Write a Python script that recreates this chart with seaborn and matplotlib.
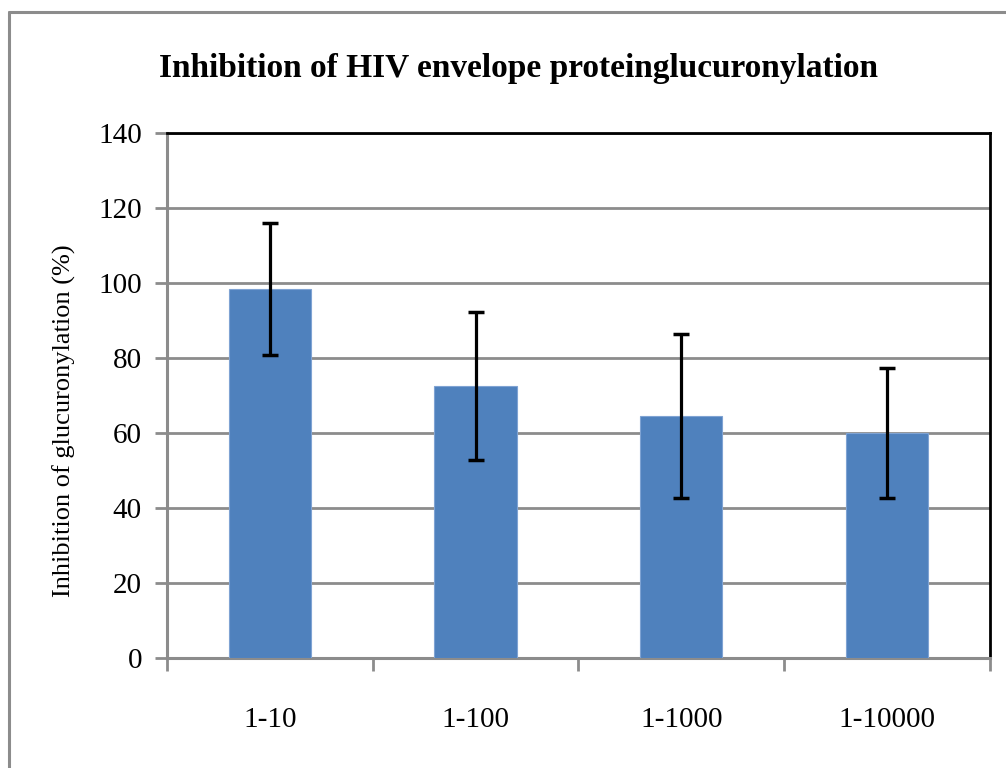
import matplotlib
matplotlib.use("Agg")
import matplotlib.pyplot as plt
from matplotlib.lines import Line2D
import pandas as pd
import seaborn as sns


categories = ["1-10", "1-100", "1-1000", "1-10000"]
inhibition = [98.5, 72.5, 64.6, 60.0]
errors = [17.6, 19.8, 21.9, 17.3]
y_ticks = [0, 20, 40, 60, 80, 100, 120, 140]

TITLE = "Inhibition of HIV envelope proteinglucuronylation"
YLABEL = "Inhibition of glucuronylation (%)"

BAR_BLUE = "#4F81BD"
GRID_GREY = "#8C8C8C"


def main():
    sns.set_theme(style="white", rc={
        "text.color": "black",
        "axes.labelcolor": "black",
        "xtick.labelcolor": "black",
        "ytick.labelcolor": "black",
    })
    plt.rcParams["font.family"] = ["Liberation Serif", "DejaVu Serif"]

    df = pd.DataFrame({"dilution": categories, "inhibition": inhibition})

    fig = plt.figure(figsize=(10.06, 7.68), dpi=100)
    ax = fig.add_axes([0.166, 0.1432, 0.818, 0.6836])

    sns.barplot(data=df, x="dilution", y="inhibition", color=BAR_BLUE,
                saturation=1, width=0.4, errorbar=None, ax=ax,
                edgecolor="#7FA3D3", linewidth=0.8, zorder=3)
    ax.errorbar(range(len(categories)), inhibition, yerr=errors, fmt="none",
                ecolor="black", elinewidth=2.3, capsize=6, capthick=2.5, zorder=4)

    ax.set_ylim(0, 140)
    ax.set_xlim(-0.5, len(categories) - 0.5)
    ax.set_yticks(y_ticks)
    ax.yaxis.grid(True, color=GRID_GREY, linewidth=2, zorder=0)
    ax.set_axisbelow(True)

    # category boundary ticks on the x axis
    ax.set_xticks([i - 0.5 for i in range(len(categories) + 1)], minor=True)
    ax.tick_params(axis="x", which="major", length=0, pad=35, labelsize=21,
                   labelcolor="black")
    ax.tick_params(axis="x", which="minor", length=9, width=2, color=GRID_GREY,
                   direction="out", bottom=True)
    ax.tick_params(axis="y", length=9, width=2, color=GRID_GREY, direction="out",
                   left=True, pad=9, labelsize=21, labelcolor="black")

    for side in ["top", "right"]:
        ax.spines[side].set_color("black")
        ax.spines[side].set_linewidth(2)
    for side in ["left", "bottom"]:
        ax.spines[side].set_color(GRID_GREY)
        ax.spines[side].set_linewidth(2.2)

    ax.set_xlabel("")
    ax.set_ylabel(YLABEL, fontsize=19, color="black")
    ax.yaxis.set_label_coords(-0.11, 0.453)

    fig.text(0.515, 0.911, TITLE, ha="center", va="center", fontsize=24,
             fontweight="bold", color="black")

    # chart area border (left and top edges visible)
    fig.add_artist(Line2D([9 / 1006, 9 / 1006], [0, 1 - 12 / 768],
                          transform=fig.transFigure, color=GRID_GREY, linewidth=2.2))
    fig.add_artist(Line2D([9 / 1006, 1], [1 - 12 / 768, 1 - 12 / 768],
                          transform=fig.transFigure, color=GRID_GREY, linewidth=2.2))

    fig.savefig("out.png", dpi=100)
    plt.close(fig)


if __name__ == "__main__":
    main()
